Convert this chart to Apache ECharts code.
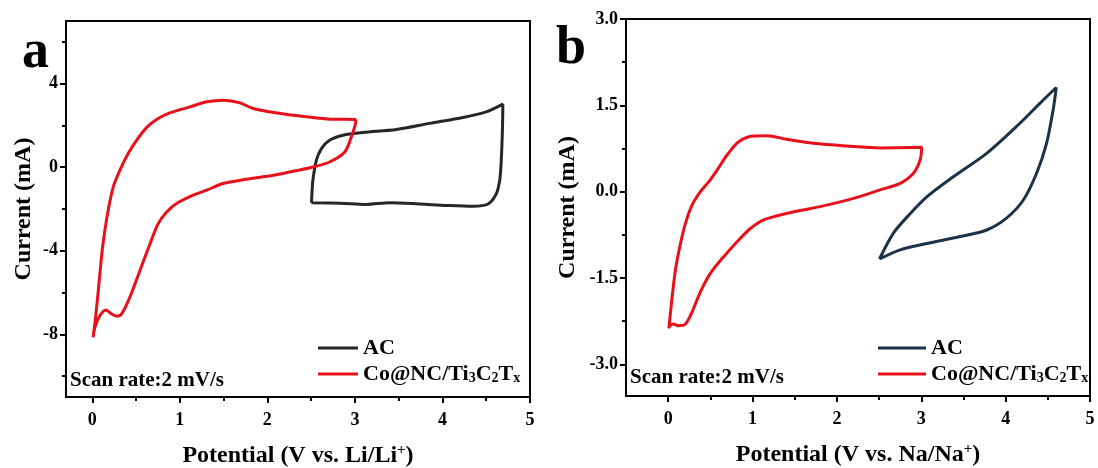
<!DOCTYPE html>
<html>
<head>
<meta charset="utf-8">
<script src="https://cdn.jsdelivr.net/npm/echarts@6/dist/echarts.min.js"></script>
<style>
html, body { margin: 0; padding: 0; background: #fff; }
#main { width: 1098px; height: 468px; }
</style>
</head>
<body>
<div id="main"></div>
<script>
// 数据
var xTicks = [0, 1, 2, 3, 4, 5];
var xMinor = [0.5, 1.5, 2.5, 3.5, 4.5];
var yTicksLi = [-8, -4, 0, 4];
var yMinorLi = [-10, -6, -2, 2, 6];
var yTicksNa = [-3, -1.5, 0, 1.5, 3];
var yMinorNa = [-2.25, -0.75, 0.75, 2.25];

// a: AC (Li)
var acLi = [[2.504,-1.7],[2.51,-1.2],[2.52,-0.62],[2.56,0.34],[2.62,0.9],[2.71,1.29],[2.865,1.53],[3.09,1.66],
  [3.475,1.81],[3.855,2.1],[4.235,2.38],[4.5,2.65],[4.69,3.02],[4.685,1.77],[4.67,0.18],[4.654,-0.62],
  [4.616,-1.26],[4.52,-1.76],[4.35,-1.87],[4.05,-1.83],[3.74,-1.76],[3.4,-1.7],[3.13,-1.78],[2.83,-1.72],[2.504,-1.7]];
// a: Co@NC/Ti3C2Tx (Li)
var coLi = [[0.01,-8.14],[0.042,-7.02],[0.08,-5.42],[0.118,-3.82],[0.175,-2.22],[0.24,-0.94],[0.316,-0.14],
  [0.41,0.66],[0.506,1.29],[0.628,1.93],[0.753,2.33],[0.887,2.6],[1.115,2.89],[1.306,3.13],[1.495,3.21],
  [1.686,3.08],[1.838,2.81],[2.07,2.62],[2.37,2.45],[2.52,2.38],[2.75,2.3],[3.0,2.29],[3.01,2.2],[2.98,1.7],
  [2.96,1.45],[2.885,0.73],[2.71,0.25],[2.52,0.01],[2.37,-0.13],[2.07,-0.38],[1.76,-0.58],[1.495,-0.78],
  [1.306,-1.1],[1.153,-1.34],[0.963,-1.74],[0.85,-2.14],[0.753,-2.7],[0.66,-3.66],[0.545,-4.94],[0.43,-6.22],
  [0.336,-7.02],[0.28,-7.13],[0.22,-7.02],[0.156,-6.83],[0.088,-7.1],[0.03,-7.66],[0.01,-8.14]];
// b: AC (Na)
var acNa = [[2.505,-1.17],[2.67,-0.72],[2.87,-0.38],[3.065,-0.09],[3.38,0.26],[3.775,0.666],[4.17,1.19],
  [4.406,1.535],[4.6,1.81],[4.563,1.42],[4.485,0.84],[4.367,0.32],[4.21,-0.145],[4.01,-0.46],[3.775,-0.666],
  [3.46,-0.78],[3.065,-0.9],[2.75,-1.01],[2.505,-1.17]];
// b: Co@NC/Ti3C2Tx (Na)
var coNa = [[0.008,-2.375],[0.02,-2.2],[0.047,-1.83],[0.086,-1.36],[0.146,-0.9],[0.205,-0.55],[0.284,-0.23],
  [0.382,0.0],[0.48,0.17],[0.58,0.376],[0.698,0.637],[0.836,0.868],[1.013,0.967],[1.17,0.972],[1.408,0.909],
  [1.723,0.84],[2.118,0.793],[2.51,0.76],[3.006,0.77],[2.986,0.55],[2.907,0.32],[2.75,0.145],[2.51,0.03],
  [2.197,-0.116],[1.8,-0.26],[1.408,-0.376],[1.132,-0.49],[0.974,-0.64],[0.817,-0.87],[0.658,-1.13],
  [0.5,-1.42],[0.382,-1.74],[0.284,-2.09],[0.225,-2.26],[0.185,-2.32],[0.12,-2.33],[0.06,-2.3],[0.02,-2.33],[0.008,-2.375]];

var FONT = '"Liberation Serif", "Times New Roman", serif';
var RED = '#e8101a';

function mainAxis(grid, min, max, ticks, fmt, name, gap, pos) {
	return {
		type: 'value', gridIndex: grid, min: min, max: max, position: pos,
		splitLine: { show: false },
		axisLine: { show: true, onZero: false, lineStyle: { color: '#000', width: 2 } },
		axisTick: { show: true, customValues: ticks, length: 6, lineStyle: { color: '#000', width: 2 } },
		axisLabel: { show: true, customValues: ticks, formatter: fmt, color: '#000', fontFamily: FONT,
			fontWeight: 'bold', fontSize: 18, margin: pos == 'bottom' ? 14 : 8 },
		name: name, nameLocation: 'middle', nameGap: gap,
		nameTextStyle: { color: '#000', fontFamily: FONT, fontWeight: 'bold', fontSize: 24,
			rich: { n: { fontFamily: FONT, fontWeight: 'bold', fontSize: 24, color: '#000' },
				sup: { fontFamily: FONT, fontWeight: 'bold', fontSize: 15, color: '#000', verticalAlign: 'top', padding: [0, 0, 10, 0] } } }
	};
}
function minorAxis(grid, min, max, ticks, pos) {
	return {
		type: 'value', gridIndex: grid, min: min, max: max, position: pos,
		splitLine: { show: false },
		axisLine: { show: false, onZero: false },
		axisTick: { show: true, customValues: ticks, length: 4, lineStyle: { color: '#000', width: 2 } },
		axisLabel: { show: false }
	};
}
function intFmt(v) { return String(v); }
function oneFmt(v) { return v.toFixed(1); }

var legendText = {
	color: '#000', fontFamily: FONT, fontWeight: 'bold', fontSize: 22,
	rich: {
		n: { fontFamily: FONT, fontWeight: 'bold', fontSize: 22, color: '#000' },
		s: { fontFamily: FONT, fontWeight: 'bold', fontSize: 14, color: '#000', verticalAlign: 'bottom', padding: [7, 0, 0, 0] }
	}
};
function legendFmt(name) {
	if(name.indexOf('AC') == 0) {
		return '{n|AC}';
	}
	return '{n|Co@NC/Ti}{s|3}{n|C}{s|2}{n|T}{s|x}';
}

var option = {
	animation: false,
	backgroundColor: '#fff',
	grid: [
		{ left: 66, top: 21, width: 464, height: 376, show: true, borderColor: '#000', borderWidth: 2,
			backgroundColor: 'transparent', outerBoundsMode: 'none' },
		{ left: 626, top: 19, width: 464, height: 377, show: true, borderColor: '#000', borderWidth: 2,
			backgroundColor: 'transparent', outerBoundsMode: 'none' }
	],
	xAxis: [
		mainAxis(0, -0.3, 5, xTicks, intFmt, '{n|Potential (V vs. Li/Li}{sup|+}{n|)}', 46, 'bottom'),
		minorAxis(0, -0.3, 5, xMinor, 'bottom'),
		mainAxis(1, -0.5, 5, xTicks, intFmt, '{n|Potential (V vs. Na/Na}{sup|+}{n|)}', 46, 'bottom'),
		minorAxis(1, -0.5, 5, xMinor, 'bottom')
	],
	yAxis: [
		mainAxis(0, -11, 7, yTicksLi, intFmt, 'Current (mA)', 30, 'left'),
		minorAxis(0, -11, 7, yMinorLi, 'left'),
		mainAxis(1, -3.55, 3, yTicksNa, oneFmt, 'Current (mA)', 46, 'left'),
		minorAxis(1, -3.55, 3, yMinorNa, 'left')
	],
	legend: [
		{ data: ['AC-Li', 'Co-Li'], left: 313, top: 332, orient: 'vertical', itemWidth: 40, itemHeight: 3, itemGap: 4,
			icon: 'rect', formatter: legendFmt, textStyle: legendText, selectedMode: false },
		{ data: ['AC-Na', 'Co-Na'], left: 873, top: 332, orient: 'vertical', itemWidth: 48, itemHeight: 3, itemGap: 4,
			icon: 'rect', formatter: legendFmt, textStyle: legendText, selectedMode: false }
	],
	graphic: [
		{ type: 'text', left: 22, top: 26, style: { text: 'a', fontFamily: FONT, fontWeight: 'bold', fontSize: 54, fill: '#000' } },
		{ type: 'text', left: 556, top: 22, style: { text: 'b', fontFamily: FONT, fontWeight: 'bold', fontSize: 54, fill: '#000' } },
		{ type: 'text', left: 70, top: 370, style: { text: 'Scan rate:2 mV/s', fontFamily: FONT, fontWeight: 'bold', fontSize: 21, fill: '#000' } },
		{ type: 'text', left: 630, top: 367, style: { text: 'Scan rate:2 mV/s', fontFamily: FONT, fontWeight: 'bold', fontSize: 21, fill: '#000' } }
	],
	series: [
		{ name: 'AC-Li', type: 'line', xAxisIndex: 0, yAxisIndex: 0, data: acLi, smooth: 0.3, symbol: 'none',
			color: '#262626', lineStyle: { width: 3, color: '#262626' } },
		{ name: 'Co-Li', type: 'line', xAxisIndex: 0, yAxisIndex: 0, data: coLi, smooth: 0.3, symbol: 'none',
			color: RED, lineStyle: { width: 3, color: RED } },
		{ name: 'AC-Na', type: 'line', xAxisIndex: 2, yAxisIndex: 2, data: acNa, smooth: 0.3, symbol: 'none',
			color: '#1d3247', lineStyle: { width: 3, color: '#1d3247' } },
		{ name: 'Co-Na', type: 'line', xAxisIndex: 2, yAxisIndex: 2, data: coNa, smooth: 0.3, symbol: 'none',
			color: RED, lineStyle: { width: 3, color: RED } }
	]
};

var myChart = echarts.init(document.getElementById('main'));
myChart.setOption(option);
</script>
</body>
</html>
